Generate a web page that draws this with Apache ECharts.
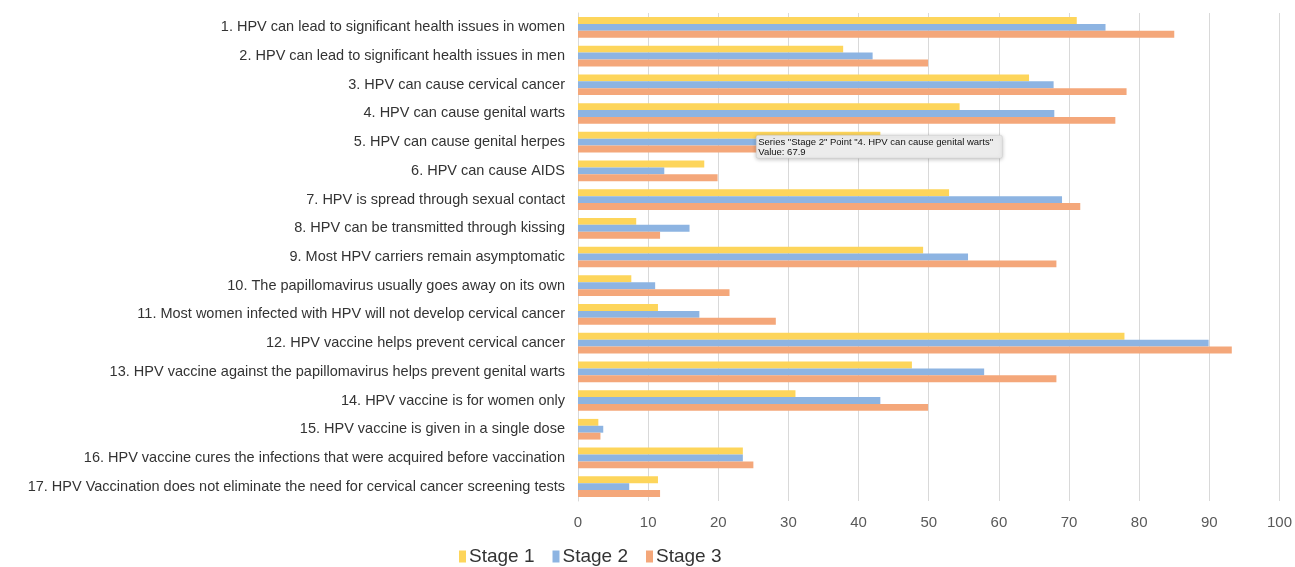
<!DOCTYPE html>
<html><head><meta charset="utf-8">
<script src="https://cdn.jsdelivr.net/npm/echarts@6/dist/echarts.min.js"></script>
<style>html,body{margin:0;padding:0;background:#fff}#c{width:1295px;height:567px}</style>
</head><body><div id="c"></div>
<script>
const categories = [
  "1. HPV can lead to significant health issues in women",
  "2. HPV can lead to significant health issues in men",
  "3. HPV can cause cervical cancer",
  "4. HPV can cause genital warts",
  "5. HPV can cause genital herpes",
  "6. HPV can cause AIDS",
  "7. HPV is spread through sexual contact",
  "8. HPV can be transmitted through kissing",
  "9. Most HPV carriers remain asymptomatic",
  "10. The papillomavirus usually goes away on its own",
  "11. Most women infected with HPV will not develop cervical cancer",
  "12. HPV vaccine helps prevent cervical cancer",
  "13. HPV vaccine against the papillomavirus helps prevent genital warts",
  "14. HPV vaccine is for women only",
  "15. HPV vaccine is given in a single dose",
  "16. HPV vaccine cures the infections that were acquired before vaccination",
  "17. HPV Vaccination does not eliminate the need for cervical cancer screening tests"
];
const stage1 = [71.1, 37.8, 64.3, 54.4, 43.1, 18.0, 52.9, 8.3, 49.2, 7.6, 11.4, 77.9, 47.6, 31.0, 2.9, 23.5, 11.4];
const stage2 = [75.2, 42.0, 67.8, 67.9, 36.0, 12.3, 69.0, 15.9, 55.6, 11.0, 17.3, 89.9, 57.9, 43.1, 3.6, 23.5, 7.3];
const stage3 = [85.0, 49.9, 78.2, 76.6, 40.0, 19.9, 71.6, 11.7, 68.2, 21.6, 28.2, 93.2, 68.2, 49.9, 3.2, 25.0, 11.7];
const seriesNames = ["Stage 1", "Stage 2", "Stage 3"];
const colors = ["#FDD55B", "#8DB4E2", "#F4A77A"];
const xTicks = {min: 0, max: 100, interval: 10};
const tooltipLines = ['Series "Stage 2" Point "4. HPV can cause genital warts"', 'Value: 67.9'];

const chart = echarts.init(document.getElementById('c'));
const font = '"Liberation Sans", Arial, sans-serif';
const data = [stage1, stage2, stage3];
chart.setOption({
  animation: false,
  textStyle: {fontFamily: font},
  grid: {left: 578, right: 15, top: 13, bottom: 66, containLabel: false},
  xAxis: {
    type: 'value', min: xTicks.min, max: xTicks.max, interval: xTicks.interval,
    axisLine: {show: false}, axisTick: {show: false},
    splitLine: {lineStyle: {color: '#d9d9d9', width: 1}},
    axisLabel: {color: '#595959', fontSize: 15, margin: 14, fontFamily: font}
  },
  yAxis: {
    type: 'category', data: categories, inverse: true,
    axisLine: {show: true, lineStyle: {color: '#d9d9d9'}}, axisTick: {show: false},
    axisLabel: {color: '#333', fontSize: 14.5, margin: 13, fontFamily: font}
  },
  legend: {
    data: seriesNames, bottom: -4, left: 454, itemWidth: 7, itemHeight: 12, itemGap: 18,
    icon: 'rect',
    textStyle: {fontSize: 19, color: '#333', fontFamily: font, padding: [0,0,0,-2]}
  },
  series: seriesNames.map((n, i) => ({
    name: n, type: 'bar', data: data[i], barGap: '0%', barCategoryGap: '28%',
    itemStyle: {color: colors[i]}
  })),
  graphic: [{
    type: 'group', left: 756, top: 135, z: 100, zlevel: 1,
    children: [
      {type: 'rect', z: 100, shape: {x: 0, y: 0, width: 246, height: 23, r: 2},
       style: {fill: '#ececec', stroke: '#c8c8c8', lineWidth: 0.5, shadowBlur: 4, shadowColor: 'rgba(0,0,0,0.25)', shadowOffsetY: 1}},
      {type: 'text', z: 101, x: 2, y: 1.5, style: {text: tooltipLines.join('\n'), fontSize: 9.5, lineHeight: 10.5, fill: '#111', fontFamily: font}}
    ]
  }]
});
</script></body></html>
